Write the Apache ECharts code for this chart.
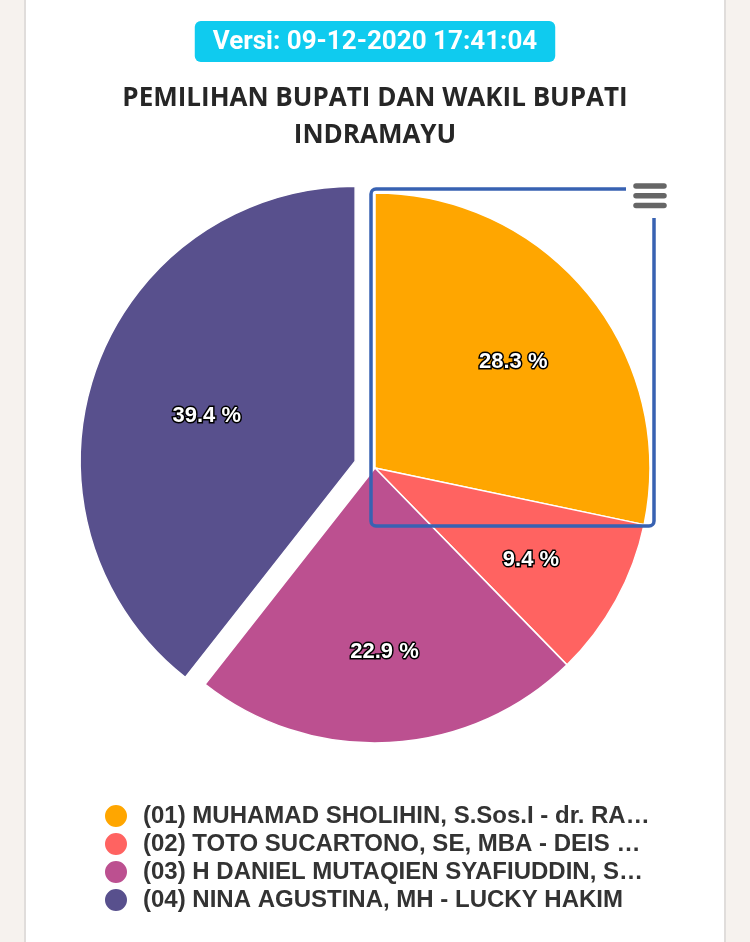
<!DOCTYPE html>
<html>
<head>
<meta charset="utf-8">
<script src="https://cdn.jsdelivr.net/npm/echarts@6/dist/echarts.min.js"></script>
<style>
  html, body { margin: 0; padding: 0; }
  body { width: 750px; height: 942px; background: #f6f2ee; position: relative; overflow: hidden; }
  #card { position: absolute; left: 24px; top: 0; width: 698px; height: 942px; background: #fff;
          border-left: 2px solid #e0dddb; border-right: 2px solid #e0dddb; }
  #chart { position: absolute; left: 0; top: 0; width: 750px; height: 942px; }
</style>
</head>
<body>
<div id="card"></div>
<div id="chart"></div>
<script>
const versionText = 'Versi: 09-12-2020 17:41:04';
const titleText = 'PEMILIHAN BUPATI DAN WAKIL BUPATI\nINDRAMAYU';
const candidates = [
  '(01) MUHAMAD SHOLIHIN, S.Sos.I - dr. RATNAWATI',
  '(02) TOTO SUCARTONO, SE, MBA - DEIS HANDIKA',
  '(03) H DANIEL MUTAQIEN SYAFIUDDIN, SE - TAUFIK HIDAYAT',
  '(04) NINA AGUSTINA, MH - LUCKY HAKIM'
];
const percents = [28.3, 9.4, 22.9, 39.4];
const colors = ['#ffa600', '#ff6361', '#bc5090', '#58508d'];
const selectedIndex = 3;

const chart = echarts.init(document.getElementById('chart'), null, { renderer: 'canvas' });

const mainData = candidates.map((n, i) => ({
  name: n, value: percents[i], selected: i === selectedIndex,
  itemStyle: { color: colors[i] }
}));
const labelData = candidates.map((n, i) => ({ name: n, value: percents[i] }));

const menuLines = [0, 1, 2].map(k => ({
  type: 'line', z: 103,
  shape: { x1: 636, y1: 186 + k * 9.8, x2: 664, y2: 186 + k * 9.8 },
  style: { stroke: '#666', lineWidth: 5.5, lineCap: 'round' }
}));

chart.setOption({
  backgroundColor: 'transparent',
  animation: false,
  title: [
    {
      text: versionText,
      left: 'center', top: 21,
      backgroundColor: '#0fcbef',
      borderRadius: 6,
      padding: [6, 18, 5, 18],
      textStyle: { color: '#fff', fontFamily: 'Roboto', fontWeight: 'bold', fontSize: 26, lineHeight: 30 }
    },
    {
      text: titleText,
      left: 375, top: 80,
      textAlign: 'center',
      padding: 0,
      textStyle: { color: '#262626', fontFamily: 'Open Sans', fontWeight: 'bold', fontSize: 26, lineHeight: 37 }
    }
  ],
  legend: {
    orient: 'vertical',
    left: 103, top: 803,
    padding: 0,
    icon: 'circle',
    itemWidth: 24, itemHeight: 24,
    itemGap: 2,
    data: candidates.map((n, i) => ({ name: n, itemStyle: { color: colors[i] } })),
    textStyle: {
      color: '#333', fontFamily: 'Liberation Sans', fontWeight: 'bold', fontSize: 24, lineHeight: 24,
      width: 514, overflow: 'truncate', ellipsis: '…', padding: [0, 0, 0, 10]
    }
  },
  series: [
    {
      type: 'pie',
      center: [375, 468],
      radius: 275,
      startAngle: 90,
      clockwise: true,
      selectedMode: 'single',
      selectedOffset: 21,
      avoidLabelOverlap: false,
      itemStyle: { borderColor: '#fff', borderWidth: 1.5 },
      label: { show: false },
      labelLine: { show: false },
      emphasis: { disabled: true },
      data: mainData
    },
    {
      type: 'pie',
      center: [375, 468],
      radius: 350,
      startAngle: 90,
      clockwise: true,
      silent: true,
      z: 5,
      avoidLabelOverlap: false,
      itemStyle: { color: 'rgba(0,0,0,0)', borderWidth: 0 },
      emphasis: { disabled: true },
      labelLine: { show: false },
      label: {
        show: true, position: 'inside',
        formatter: '{c} %',
        offset: [0, 6],
        color: '#fff', fontFamily: 'Liberation Sans', fontWeight: 'bold', fontSize: 22,
        textBorderColor: '#000', textBorderWidth: 3
      },
      data: labelData
    }
  ],
  graphic: [
    {
      type: 'rect', z: 100,
      shape: { x: 371, y: 189, width: 283, height: 337, r: 5 },
      style: { fill: 'none', stroke: '#3862b2', lineWidth: 3.5 }
    },
    {
      type: 'rect', z: 101,
      shape: { x: 626, y: 178, width: 46, height: 40 },
      style: { fill: '#fff' }
    }
  ].concat(menuLines)
});
</script>
</body>
</html>
